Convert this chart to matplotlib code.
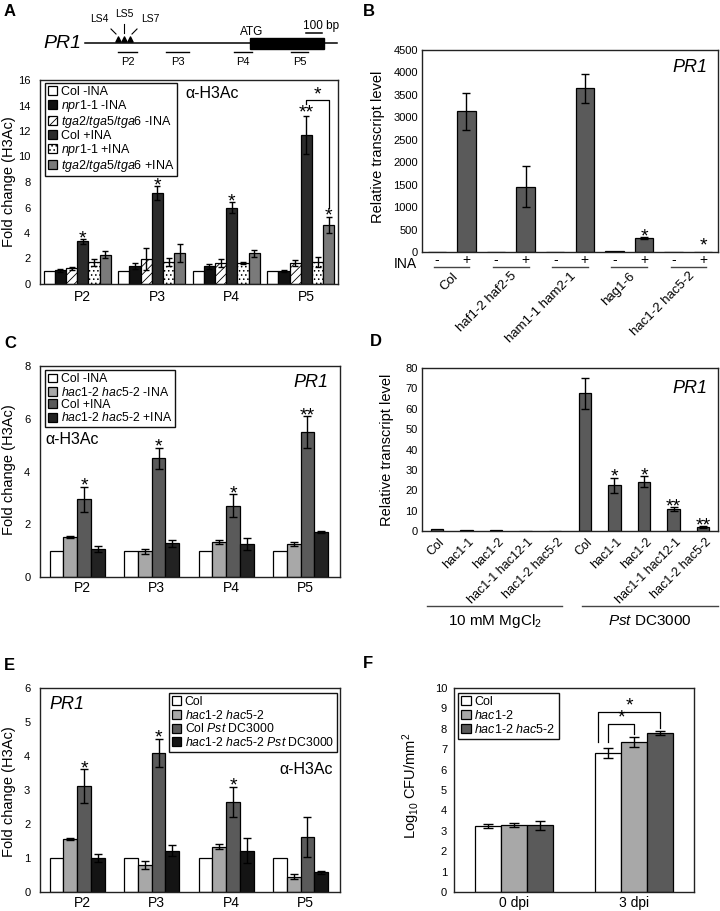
import matplotlib
matplotlib.use('Agg')
import matplotlib.pyplot as plt
import matplotlib.transforms as mtransforms
import numpy as np

plt.rcParams['font.family'] = ['Liberation Sans', 'DejaVu Sans']
plt.rcParams['mathtext.fontset'] = 'custom'
plt.rcParams['mathtext.rm'] = 'Liberation Sans'
plt.rcParams['mathtext.it'] = 'Liberation Sans:italic'
plt.rcParams['hatch.linewidth'] = 0.6
plt.rcParams['axes.linewidth'] = 1.0

# ---------------- DATA ----------------
# Panel A
a_positions = ['P2', 'P3', 'P4', 'P5']
a_series = ['Col -INA', r'$\mathit{npr1}$-$\mathit{1}$ -INA', r'$\mathit{tga2/tga5/tga6}$ -INA',
            'Col +INA', r'$\mathit{npr1}$-$\mathit{1}$ +INA', r'$\mathit{tga2/tga5/tga6}$ +INA']
a_col_mock = [1.0, 1.0, 1.0, 1.0]
a_col_mock_err = [0, 0, 0, 0]
a_npr1_mock = [1.08, 1.4, 1.4, 1.02]
a_npr1_mock_err = [0.1, 0.25, 0.2, 0.05]
a_tga_mock = [1.25, 1.95, 1.65, 1.65]
a_tga_mock_err = [0.12, 0.85, 0.3, 0.25]
a_col_ina = [3.35, 7.15, 6.0, 11.7]
a_col_ina_err = [0.18, 0.55, 0.43, 1.5]
a_npr1_ina = [1.7, 1.75, 1.65, 1.75]
a_npr1_ina_err = [0.3, 0.3, 0.08, 0.38]
a_tga_ina = [2.3, 2.4, 2.4, 4.63]
a_tga_ina_err = [0.28, 0.7, 0.25, 0.65]
a_y_ticks = [0, 2, 4, 6, 8, 10, 12, 14, 16]

# Panel B
b_genotypes = ['Col', 'haf1-2 haf2-5', 'ham1-1 ham2-1', 'hag1-6', 'hac1-2 hac5-2']
b_treat = ['-', '+']
b_mock = [0, 0, 0, 15, 0]
b_mock_err = [0, 0, 0, 0, 0]
b_ina = [3130, 1455, 3645, 305, 10]
b_ina_err = [415, 450, 330, 20, 0]
b_y_ticks = [0, 500, 1000, 1500, 2000, 2500, 3000, 3500, 4000, 4500]

# Panel C
c_positions = ['P2', 'P3', 'P4', 'P5']
c_series = ['Col -INA', r'$\mathit{hac1}$-$\mathit{2\ hac5}$-$\mathit{2}$ -INA', 'Col +INA',
            r'$\mathit{hac1}$-$\mathit{2\ hac5}$-$\mathit{2}$ +INA']
c_col_mock = [1.0, 1.0, 1.0, 1.0]
c_col_mock_err = [0, 0, 0, 0]
c_hac_mock = [1.52, 0.97, 1.33, 1.25]
c_hac_mock_err = [0.03, 0.08, 0.07, 0.06]
c_col_ina = [2.95, 4.5, 2.7, 5.5]
c_col_ina_err = [0.48, 0.4, 0.44, 0.6]
c_hac_ina = [1.05, 1.28, 1.25, 1.7]
c_hac_ina_err = [0.12, 0.13, 0.22, 0.04]
c_y_ticks = [0, 2, 4, 6, 8]

# Panel D
d_labels = ['Col', 'hac1-1', 'hac1-2', 'hac1-1 hac12-1', 'hac1-2 hac5-2',
            'Col', 'hac1-1', 'hac1-2', 'hac1-1 hac12-1', 'hac1-2 hac5-2']
d_treatments = ['10 mM MgCl$_2$', r'$\mathit{Pst}$ DC3000']
d_values = [1.0, 0.6, 0.5, 0.2, 0.2, 67.5, 22.5, 24.2, 10.8, 2.0]
d_errors = [0, 0, 0, 0, 0, 7.8, 3.7, 2.7, 0.8, 0.5]
d_stars = ['', '', '', '', '', '', '*', '*', '**', '**']
d_y_ticks = [0, 10, 20, 30, 40, 50, 60, 70, 80]

# Panel E
e_positions = ['P2', 'P3', 'P4', 'P5']
e_series = ['Col', r'$\mathit{hac1}$-$\mathit{2\ hac5}$-$\mathit{2}$', r'Col $\mathit{Pst}$ DC3000',
            r'$\mathit{hac1}$-$\mathit{2\ hac5}$-$\mathit{2\ Pst}$ DC3000']
e_col = [1.0, 1.0, 1.0, 1.0]
e_col_err = [0, 0, 0, 0]
e_hac = [1.55, 0.8, 1.33, 0.45]
e_hac_err = [0.03, 0.12, 0.07, 0.07]
e_col_pst = [3.12, 4.09, 2.65, 1.62]
e_col_pst_err = [0.5, 0.42, 0.45, 0.6]
e_hac_pst = [1.0, 1.22, 1.22, 0.58]
e_hac_pst_err = [0.13, 0.15, 0.37, 0.05]
e_y_ticks = [0, 1, 2, 3, 4, 5, 6]

# Panel F
f_groups = ['0 dpi', '3 dpi']
f_series = ['Col', r'$\mathit{hac1}$-$\mathit{2}$', r'$\mathit{hac1}$-$\mathit{2\ hac5}$-$\mathit{2}$']
f_col = [3.24, 6.81]
f_col_err = [0.1, 0.25]
f_hac1 = [3.28, 7.35]
f_hac1_err = [0.1, 0.25]
f_double = [3.28, 7.8]
f_double_err = [0.22, 0.08]
f_y_ticks = list(range(0, 11))

# ---------------- FIGURE ----------------
W, H = 720, 911
fig = plt.figure(figsize=(W / 100, H / 100), dpi=100)


def axpx(l, t, r, b):
    return fig.add_axes([l / W, 1 - b / H, (r - l) / W, (b - t) / H])


EDGE = 'black'
BLW = 0.9
TICKFS = 8
STARFS = 14
YLFS = 10.5


def style_axes(ax, yticks, ypad=6):
    ax.set_ylim(yticks[0], yticks[-1])
    ax.set_yticks(yticks)
    ax.tick_params(axis='y', length=0, pad=ypad, labelsize=TICKFS)
    ax.tick_params(axis='x', length=0)
    for s in ax.spines.values():
        s.set_color('#222222')
        s.set_linewidth(1.0)


def errbars(ax, x, y, e, cap):
    x = np.asarray(x, float); y = np.asarray(y, float); e = np.asarray(e, float)
    m = e > 0
    if m.any():
        ax.errorbar(x[m], y[m], yerr=e[m], fmt='none', ecolor='black', elinewidth=1.0,
                    capsize=cap, capthick=1.0, zorder=4)


def star(ax, x, top, txt, dy=-3):
    ax.annotate(txt, (x, top), xytext=(0, dy), textcoords='offset points',
                ha='center', va='baseline', fontsize=STARFS, zorder=5)


def grouped(ax, vals, errs, faces, hatches, labels, width, cap):
    n = len(vals)
    xs = np.arange(len(vals[0]))
    out = []
    for k in range(n):
        off = (k - (n - 1) / 2) * width
        ax.bar(xs + off, vals[k], width, color=faces[k], edgecolor=EDGE, linewidth=BLW,
               hatch=hatches[k], label=labels[k], zorder=2)
        errbars(ax, xs + off, vals[k], errs[k], cap)
        out.append(xs + off)
    return out


def legend(ax, loc, anchor, fs, ls=0.1, bp=0.25):
    lg = ax.legend(loc=loc, bbox_to_anchor=anchor, fontsize=fs, frameon=True, fancybox=False,
                   edgecolor='#111111', framealpha=1, borderaxespad=0, handlelength=0.75,
                   handleheight=0.75, handletextpad=0.3, labelspacing=ls, borderpad=bp)
    lg.get_frame().set_linewidth(1.0)
    return lg


# overlay for diagram and panel letters
ov = fig.add_axes([0, 0, 1, 1])
ov.set_xlim(0, W); ov.set_ylim(H, 0); ov.axis('off')
ov.patch.set_visible(False)

for lt, (px, py) in zip('ABCDEF', [(4, 12), (363, 12), (4, 343), (370, 342), (4, 665), (363, 663)]):
    ov.text(px, py, lt, fontsize=12, fontweight='bold', ha='left', va='center')

# gene diagram
ov.text(43, 43, 'PR1', fontsize=14, style='italic', ha='left', va='center')
ov.plot([85, 337], [42.5, 42.5], color='black', lw=1.1)
ov.add_patch(plt.Rectangle((250, 38), 74, 11, facecolor='black', edgecolor='black'))
ov.text(252, 32, 'ATG', fontsize=8.5, ha='center', va='center')
ov.plot([306, 322], [32.5, 32.5], color='black', lw=1.1)
ov.text(303, 26, '100 bp', fontsize=8.5, ha='left', va='center')
ov.scatter([118, 124, 129.5], [38.5, 38.5, 38.5], marker='^', s=14, color='black', zorder=3)
ov.plot([111, 116], [29, 34], color='black', lw=0.8)
ov.plot([124, 124], [24, 33], color='black', lw=0.8)
ov.plot([137, 132], [29, 34], color='black', lw=0.8)
ov.text(99, 19, 'LS4', fontsize=7.5, ha='center', va='center')
ov.text(124, 14, 'LS5', fontsize=7.5, ha='center', va='center')
ov.text(150, 19, 'LS7', fontsize=7.5, ha='center', va='center')
for lab, x0, x1 in zip(a_positions, [118, 166, 234, 291], [137, 189, 252, 308]):
    ov.plot([x0, x1], [52, 52], color='black', lw=1.0)
    ov.text((x0 + x1) / 2, 62, lab, fontsize=8, ha='center', va='center')

# ---------------- Panel A ----------------
axA = axpx(40, 80, 338, 284)
wA = 0.151
a_vals = [a_col_mock, a_npr1_mock, a_tga_mock, a_col_ina, a_npr1_ina, a_tga_ina]
a_errs = [a_col_mock_err, a_npr1_mock_err, a_tga_mock_err, a_col_ina_err, a_npr1_ina_err, a_tga_ina_err]
xsA = grouped(axA, a_vals, a_errs, ['white', '#111111', 'white', '#2b2b2b', 'white', '#7a7a7a'],
              [None, None, '////', None, '....', None], a_series, wA, 2.3)
axA.set_xlim(-0.5, 3.5)
style_axes(axA, a_y_ticks, ypad=7)
axA.set_xticks(np.arange(4) + 0.07)
axA.set_xticklabels(a_positions, fontsize=10)
axA.tick_params(axis='x', pad=4)
axA.set_ylabel('Fold change (H3Ac)', fontsize=YLFS)
axA.yaxis.set_label_coords(-0.08, 0.5)
legend(axA, 'upper left', (0.017, 0.985), 9.0, ls=0.0, bp=0.2)
axA.text(0.487, 0.936, 'α-H3Ac', transform=axA.transAxes, fontsize=11.5, ha='left', va='center')
for i in range(4):
    top = a_col_ina[i] + a_col_ina_err[i]
    star(axA, xsA[3][i], top, '**' if i == 3 else '*', dy=-1.5 if i == 3 else -3)
star(axA, xsA[5][3], a_tga_ina[3] + a_tga_ina_err[3], '*')
bx0, bx1 = xsA[3][3], xsA[5][3]
axA.plot([bx0, bx0, bx1, bx1], [14.15, 14.43, 14.43, 6.0], color='black', lw=0.9, zorder=5)
axA.text((bx0 + bx1) / 2, 14.45, '*', fontsize=STARFS, ha='center', va='baseline')

# ---------------- Panel B ----------------
axB = axpx(422, 50, 718, 252)
xb_mock = np.arange(len(b_genotypes)) * 2
xb_ina = xb_mock + 1
axB.bar(xb_mock, b_mock, 0.62, color='#5a5a5a', edgecolor=EDGE, linewidth=BLW, zorder=2)
axB.bar(xb_ina, b_ina, 0.62, color='#5a5a5a', edgecolor=EDGE, linewidth=BLW, zorder=2)
errbars(axB, xb_ina, b_ina, b_ina_err, 3)
axB.set_xlim(-0.5, 9.5)
style_axes(axB, b_y_ticks, ypad=3)
axB.set_xticks([])
axB.set_ylabel('Relative transcript level', fontsize=YLFS)
axB.yaxis.set_label_coords(-0.125, 0.52)
axB.text(0.963, 0.915, 'PR1', transform=axB.transAxes, fontsize=13, style='italic', ha='right', va='center')
star(axB, xb_ina[3], b_ina[3] + b_ina_err[3], '*')
star(axB, xb_ina[4], b_ina[4] + b_ina_err[4], '*', dy=0.5)
trB = mtransforms.blended_transform_factory(axB.transData, axB.transAxes)
axB.text(-0.057, -0.058, 'INA', transform=axB.transAxes, fontsize=10, ha='center', va='center')
for i, g in enumerate(b_genotypes):
    axB.text(xb_mock[i], -0.04, b_treat[0], transform=trB, fontsize=10, ha='center', va='center')
    axB.text(xb_ina[i], -0.04, b_treat[1], transform=trB, fontsize=10, ha='center', va='center')
    axB.plot([xb_mock[i] - 0.1, xb_ina[i] + 0.1], [-0.074, -0.074], transform=trB,
             color='#444444', lw=1.0, clip_on=False)
    axB.text(xb_mock[i] + 0.5, -0.09, g, transform=trB, fontsize=9.5, rotation=45,
             rotation_mode='anchor', ha='right', va='top')

# ---------------- Panel C ----------------
axC = axpx(40, 366, 340, 577)
wC = 0.185
c_vals = [c_col_mock, c_hac_mock, c_col_ina, c_hac_ina]
c_errs = [c_col_mock_err, c_hac_mock_err, c_col_ina_err, c_hac_ina_err]
xsC = grouped(axC, c_vals, c_errs, ['white', '#a8a8a8', '#5a5a5a', '#222222'],
              [None] * 4, c_series, wC, 2.8)
axC.set_xlim(-0.5, 3.53)
style_axes(axC, c_y_ticks, ypad=7)
axC.set_xticks(np.arange(4) + 0.07)
axC.set_xticklabels(c_positions, fontsize=10)
axC.tick_params(axis='x', pad=3)
axC.set_ylabel('Fold change (H3Ac)', fontsize=YLFS)
axC.yaxis.set_label_coords(-0.08, 0.507)
legend(axC, 'upper left', (0.017, 0.98), 8.8, ls=0.03)
axC.text(0.96, 0.924, 'PR1', transform=axC.transAxes, fontsize=13, style='italic', ha='right', va='center')
axC.text(0.017, 0.65, 'α-H3Ac', transform=axC.transAxes, fontsize=11.5, ha='left', va='center')
for i in range(4):
    star(axC, xsC[2][i], c_col_ina[i] + c_col_ina_err[i], '**' if i == 3 else '*')

# ---------------- Panel D ----------------
axD = axpx(422, 368, 718, 531)
xd = np.arange(len(d_labels))
axD.bar(xd, d_values, 0.42, color='#5a5a5a', edgecolor=EDGE, linewidth=BLW, zorder=2)
errbars(axD, xd, d_values, d_errors, 3)
axD.set_xlim(-0.5, 9.5)
style_axes(axD, d_y_ticks, ypad=3)
axD.set_xticks([])
axD.set_ylabel('Relative transcript level', fontsize=YLFS)
axD.yaxis.set_label_coords(-0.095, 0.5)
axD.text(0.963, 0.877, 'PR1', transform=axD.transAxes, fontsize=13, style='italic', ha='right', va='center')
for i, s in enumerate(d_stars):
    if s:
        star(axD, xd[i], d_values[i] + d_errors[i], s)
trD = mtransforms.blended_transform_factory(axD.transData, axD.transAxes)
for i, lab in enumerate(d_labels):
    axD.text(xd[i] + 0.05, -0.03, lab, transform=trD, fontsize=9, rotation=45,
             rotation_mode='anchor', ha='right', va='top')
for (x0, x1), lab in zip([(-0.33, 4.23), (4.9, 9.5)], d_treatments):
    axD.plot([x0, x1], [-0.46, -0.46], transform=trD, color='#444444', lw=1.0, clip_on=False)
    axD.text((x0 + x1) / 2, -0.555, lab, transform=trD, fontsize=11, ha='center', va='center')

# ---------------- Panel E ----------------
axE = axpx(40, 688, 340, 892)
e_vals = [e_col, e_hac, e_col_pst, e_hac_pst]
e_errs = [e_col_err, e_hac_err, e_col_pst_err, e_hac_pst_err]
xsE = grouped(axE, e_vals, e_errs, ['white', '#a8a8a8', '#5a5a5a', '#141414'],
              [None] * 4, e_series, wC, 2.8)
axE.set_xlim(-0.5, 3.53)
style_axes(axE, e_y_ticks, ypad=7)
axE.set_xticks(np.arange(4) + 0.07)
axE.set_xticklabels(e_positions, fontsize=10)
axE.tick_params(axis='x', pad=3)
axE.set_ylabel('Fold change (H3Ac)', fontsize=YLFS)
axE.yaxis.set_label_coords(-0.08, 0.49)
legend(axE, 'upper right', (0.99, 0.975), 8.8, ls=0.05)
axE.text(0.033, 0.917, 'PR1', transform=axE.transAxes, fontsize=13, style='italic', ha='left', va='center')
axE.text(0.977, 0.6, 'α-H3Ac', transform=axE.transAxes, fontsize=11.5, ha='right', va='center')
for i in range(3):
    star(axE, xsE[2][i], e_col_pst[i] + e_col_pst_err[i], '*')

# ---------------- Panel F ----------------
axF = axpx(454, 688, 694, 892)
wF = 0.217
f_vals = [f_col, f_hac1, f_double]
f_errs = [f_col_err, f_hac1_err, f_double_err]
xsF = grouped(axF, f_vals, f_errs, ['white', '#a8a8a8', '#5a5a5a'], [None] * 3, f_series, wF, 3.6)
axF.set_xlim(-0.5, 1.5)
style_axes(axF, f_y_ticks, ypad=5)
axF.set_xticks(np.arange(2))
axF.set_xticklabels(f_groups, fontsize=10)
axF.tick_params(axis='x', pad=3)
axF.set_ylabel('Log$_{10}$ CFU/mm$^2$', fontsize=YLFS)
axF.yaxis.set_label_coords(-0.133, 0.52)
legend(axF, 'upper left', (0.017, 0.975), 9, ls=0.08)
# significance brackets (3 dpi)
axF.plot([xsF[0][1], xsF[0][1], xsF[1][1], xsF[1][1]], [7.35, 8.24, 8.24, 7.75], color='black', lw=0.9)
axF.plot([xsF[0][1] - 0.08, xsF[0][1] - 0.08, xsF[2][1], xsF[2][1]], [7.35, 8.82, 8.82, 8.04],
         color='black', lw=0.9)
axF.text((xsF[0][1] + xsF[1][1]) / 2, 8.3, '*', fontsize=STARFS, ha='center', va='baseline')
axF.text((xsF[0][1] - 0.08 + xsF[2][1]) / 2, 8.88, '*', fontsize=STARFS, ha='center', va='baseline')

fig.savefig('out.png', dpi=100)
